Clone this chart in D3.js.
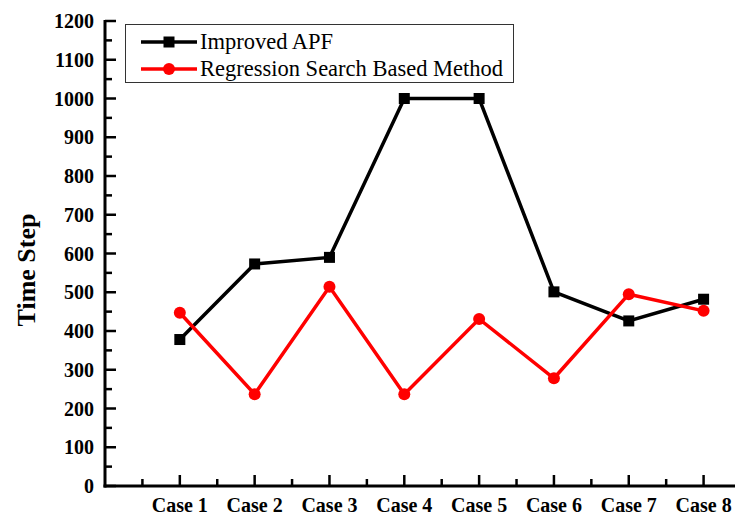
<!DOCTYPE html>
<html>
<head>
<meta charset="utf-8">
<script src="https://cdn.jsdelivr.net/npm/d3@7"></script>
<style>
  body { margin: 0; background: #fff; }
  svg { display: block; font-family: "Liberation Serif", "Times New Roman", serif; }
</style>
</head>
<body>
<div class="chart"></div>
<script>
const cases = ["Case 1", "Case 2", "Case 3", "Case 4", "Case 5", "Case 6", "Case 7", "Case 8"]
const improvedAPF = [378, 573, 590, 1000, 1000, 501, 426, 482]
const regressionSearch = [447, 237, 514, 237, 431, 278, 495, 452]
const yTicks = [0, 100, 200, 300, 400, 500, 600, 700, 800, 900, 1000, 1100, 1200]

const width = 735
const height = 515

const svg = d3.select(".chart")
    .append("svg")
    .attr("width", width)
    .attr("height", height)

// x: case index 0..8.5, case 1 sits one step right of the y axis
const x = d3.scaleLinear().domain([0, 8.5]).range([105, 741])
const y = d3.scaleLinear().domain([0, 1200]).range([486, 21])

// y axis
const yAxis = svg.append("g").attr("transform", "translate(105,0)")
yAxis.append("line")
    .attr("x1", 0).attr("x2", 0)
    .attr("y1", y(1200) - 1).attr("y2", y(0) + 1.5)
    .attr("stroke", "#000").attr("stroke-width", 3)

yAxis.selectAll(".minor")
    .data(d3.range(50, 1200, 100))
    .join("line")
    .attr("x1", 0).attr("x2", 7)
    .attr("y1", d => y(d)).attr("y2", d => y(d))
    .attr("stroke", "#000").attr("stroke-width", 2.5)

yAxis.selectAll(".major")
    .data(yTicks)
    .join("line")
    .attr("x1", 0).attr("x2", 11)
    .attr("y1", d => y(d)).attr("y2", d => y(d))
    .attr("stroke", "#000").attr("stroke-width", 2.5)

yAxis.selectAll("text")
    .data(yTicks)
    .join("text")
    .attr("x", -11)
    .attr("y", d => y(d) + 7)
    .attr("text-anchor", "end")
    .attr("font-size", "20px")
    .attr("font-weight", "bold")
    .text(d => d)

// x axis
const xAxis = svg.append("g").attr("transform", `translate(0,${y(0)})`)
xAxis.append("line")
    .attr("x1", x(0) - 1.5).attr("x2", width)
    .attr("y1", 0).attr("y2", 0)
    .attr("stroke", "#000").attr("stroke-width", 3)

xAxis.selectAll(".minor")
    .data(d3.range(0.5, 8.5, 1))
    .join("line")
    .attr("x1", d => x(d)).attr("x2", d => x(d))
    .attr("y1", 0).attr("y2", -7)
    .attr("stroke", "#000").attr("stroke-width", 2.5)

xAxis.selectAll(".major")
    .data(cases)
    .join("line")
    .attr("x1", (d, i) => x(i + 1)).attr("x2", (d, i) => x(i + 1))
    .attr("y1", 0).attr("y2", -11)
    .attr("stroke", "#000").attr("stroke-width", 2.5)

xAxis.selectAll("text")
    .data(cases)
    .join("text")
    .attr("x", (d, i) => x(i + 1))
    .attr("y", 26)
    .attr("text-anchor", "middle")
    .attr("font-size", "20px")
    .attr("font-weight", "bold")
    .text(d => d)

svg.append("text")
    .attr("transform", "translate(35,270) rotate(-90)")
    .attr("text-anchor", "middle")
    .attr("font-size", "26px")
    .attr("font-weight", "bold")
    .text("Time Step")

// series
const line = d3.line()
    .x((d, i) => x(i + 1))
    .y(d => y(d))

svg.append("path")
    .datum(improvedAPF)
    .attr("d", line)
    .attr("fill", "none")
    .attr("stroke", "#000")
    .attr("stroke-width", 3.5)

svg.selectAll(".sq")
    .data(improvedAPF)
    .join("rect")
    .attr("class", "sq")
    .attr("x", (d, i) => x(i + 1) - 5.5)
    .attr("y", d => y(d) - 5.5)
    .attr("width", 11)
    .attr("height", 11)
    .attr("fill", "#000")

svg.append("path")
    .datum(regressionSearch)
    .attr("d", line)
    .attr("fill", "none")
    .attr("stroke", "#ff0000")
    .attr("stroke-width", 3.5)

svg.selectAll(".dot")
    .data(regressionSearch)
    .join("circle")
    .attr("class", "dot")
    .attr("cx", (d, i) => x(i + 1))
    .attr("cy", d => y(d))
    .attr("r", 6)
    .attr("fill", "#ff0000")

// legend
const legend = svg.append("g")
legend.append("rect")
    .attr("x", 125.5).attr("y", 24.5)
    .attr("width", 388).attr("height", 58)
    .attr("fill", "#fff")
    .attr("stroke", "#333").attr("stroke-width", 1)

const legendItems = [
    { name: "Improved APF", color: "#000", shape: "square" },
    { name: "Regression Search Based Method", color: "#ff0000", shape: "circle" }
]

legendItems.forEach((item, i) => {
    const cy = 42 + i * 27
    legend.append("line")
        .attr("x1", 141).attr("x2", 197)
        .attr("y1", cy).attr("y2", cy)
        .attr("stroke", item.color).attr("stroke-width", 3.5)
    if (item.shape == "square") {
        legend.append("rect")
            .attr("x", 163.5).attr("y", cy - 5.5)
            .attr("width", 11).attr("height", 11)
            .attr("fill", item.color)
    } else {
        legend.append("circle")
            .attr("cx", 169).attr("cy", cy)
            .attr("r", 6)
            .attr("fill", item.color)
    }
    legend.append("text")
        .attr("x", 200)
        .attr("y", cy + 7)
        .attr("font-size", "22.5px")
        .text(item.name)
})
</script>
</body>
</html>
